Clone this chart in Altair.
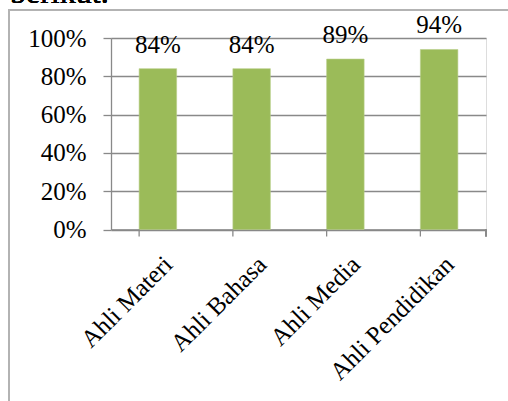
import altair as alt
import pandas as pd

categories = ["Ahli Materi", "Ahli Bahasa", "Ahli Media", "Ahli Pendidikan"]
values = [0.84, 0.84, 0.89, 0.94]
value_labels = ["84%", "84%", "89%", "94%"]
y_ticks = [0, 0.2, 0.4, 0.6, 0.8, 1.0]

df = pd.DataFrame({"cat": categories, "val": values, "label": value_labels})

FONT = "Liberation Serif, Times New Roman, serif"
GRAY = "#898989"
FS = 25
W, H = 375, 191.5

xscale = alt.Scale(paddingInner=0.6, paddingOuter=0.3)
yscale = alt.Scale(domain=[0, 1], nice=False, zero=True)

xaxis = alt.Axis(labelAngle=-45, labelAlign="right", labelBaseline="top",
                 labelFont=FONT, labelFontSize=FS, labelColor="black",
                 labelPadding=22, labelOffset=2, ticks=False, domainColor=GRAY,
                 domainWidth=1.3, grid=False, labelOverlap=False, labelBound=False,
                 title=None)
yaxis = alt.Axis(values=y_ticks, format=".0%", labelFont=FONT, labelFontSize=FS,
                 labelColor="black", labelPadding=17, tickSize=8, tickColor=GRAY,
                 tickWidth=1.3, domainColor=GRAY, domainWidth=1.3,
                 grid=True, gridColor=GRAY, gridWidth=1.3, labelBaseline="middle",
                 labelOverlap=False, labelFlush=False, labelBound=False, title=None)

base = alt.Chart(df)

frame = base.mark_rect(filled=False, stroke="#b3b3b3", strokeWidth=2).encode(
    x=alt.value(-102), x2=alt.value(420), y=alt.value(-28), y2=alt.value(420)
)

top_text = base.mark_text(align="left", baseline="alphabetic", font=FONT, fontSize=32, color="black").encode(
    x=alt.value(-101), y=alt.value(-35.5), text=alt.value("berikut.")
)

bars = base.mark_bar(color="#9BBB59", stroke="#b9cf8a", strokeWidth=0.6).encode(
    x=alt.X("cat:N", sort=categories, scale=xscale, axis=xaxis),
    y=alt.Y("val:Q", scale=yscale, axis=yaxis),
)

texts = base.mark_text(baseline="alphabetic", dy=-16, font=FONT, fontSize=FS, color="black").encode(
    x=alt.X("cat:N", sort=categories, scale=xscale, axis=xaxis),
    y=alt.Y("val:Q", scale=yscale, axis=yaxis),
    text="label:N",
)

ticks = base.mark_rule(color=GRAY, strokeWidth=1.3).encode(
    x=alt.X("cat:N", sort=categories, scale=xscale, bandPosition=0, axis=xaxis),
    y=alt.value(H), y2=alt.value(H + 7),
)

end_tick = base.mark_rule(color=GRAY, strokeWidth=1.3).encode(
    x=alt.value(W), y=alt.value(H), y2=alt.value(H + 7)
)

chart = alt.layer(frame, top_text, bars, texts, ticks, end_tick).properties(
    width=W, height=H,
    autosize=alt.AutoSizeParams(type="none"),
    padding={"left": 111, "top": 38, "right": 22, "bottom": 171.5},
).configure_view(stroke=None).configure(background="white")

chart.save("out.html", embed_options={"renderer": "svg", "actions": False})
